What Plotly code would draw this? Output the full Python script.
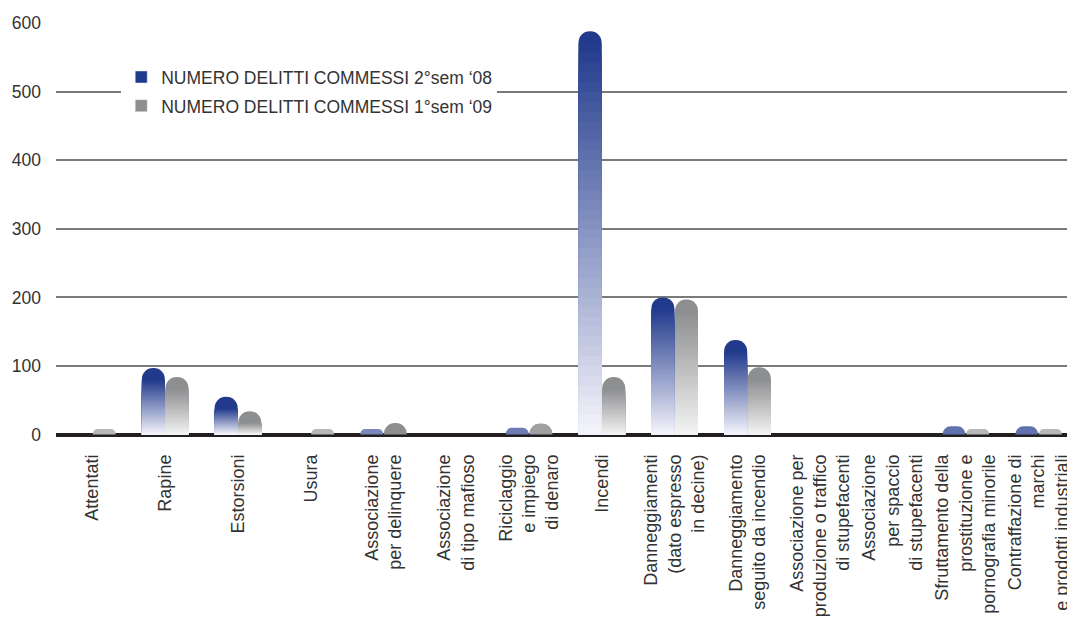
import plotly.graph_objects as go

# categories (x axis)
categories = [
    'Attentati',
    'Rapine',
    'Estorsioni',
    'Usura',
    'Associazione<br>per delinquere',
    'Associazione<br>di tipo mafioso',
    'Riciclaggio<br>e impiego<br>di denaro',
    'Incendi',
    'Danneggiamenti<br>(dato espresso<br>in decine)',
    'Danneggiamento<br>seguito da incendio',
    'Associazione per<br>produzione o traffico<br>di stupefacenti',
    'Associazione<br>per spaccio<br>di stupefacenti',
    'Sfruttamento della<br>prostituzione e<br>pornografia minorile',
    'Contraffazione di<br>marchi<br>e prodotti industriali',
]

# series values
delitti_2sem_08 = [0, 97, 55, 0, 8, 0, 10, 588, 200, 138, 0, 0, 12, 12]
delitti_1sem_09 = [8, 84, 34, 8, 17, 0, 16, 84, 197, 98, 0, 0, 8, 8]

series_names = ['NUMERO DELITTI COMMESSI 2°sem ‘08',
                'NUMERO DELITTI COMMESSI 1°sem ‘09']

y_ticks = [0, 100, 200, 300, 400, 500, 600]

FONT = 'Liberation Sans, Arial, Helvetica, sans-serif'
CAP = 17          # height of the rounded cap, in axis units
N_SEG = 40        # steps used to fake the vertical gradient

# (bottom colour, top colour) for each series
gradients = [((246, 245, 252), (33, 58, 140)),
             ((244, 244, 244), (141, 142, 144))]


def mix(c0, c1, t):
    t = max(0.0, min(1.0, t))
    return 'rgb({},{},{})'.format(*[round(a + (b - a) * t) for a, b in zip(c0, c1)])


fig = go.Figure()

for k, (vals, name) in enumerate(zip([delitti_2sem_08, delitti_1sem_09], series_names)):
    low, high = gradients[k]
    # whole bar with the rounded top, drawn first (underneath)
    top_colors = [mix(low, high, 1.0 if v >= CAP else 0.35 + 0.5 * v / CAP) for v in vals]
    fig.add_trace(go.Bar(
        x=categories,
        y=vals,
        offsetgroup=str(k),
        marker=dict(color=top_colors, line_width=0, cornerradius='50%'),
        name=name,
        legendgroup=str(k),
        showlegend=False,
        hovertemplate='%{x}: %{y}<extra></extra>'))
    # body below the cap: shorter and lighter bars laid over each other
    body = [max(v - CAP, 0) for v in vals]
    for j in range(N_SEG, 0, -1):
        fig.add_trace(go.Bar(
            x=categories,
            y=[h * j / N_SEG for h in body],
            offsetgroup=str(k),
            marker=dict(color=mix(low, high, (j - 0.5) / N_SEG), line_width=0),
            name=name,
            legendgroup=str(k),
            showlegend=False,
            hoverinfo='skip'))
    # legend entry
    fig.add_trace(go.Bar(
        x=[None], y=[None],
        marker=dict(color=mix(low, high, 1.0)),
        name=name,
        legendgroup=str(k),
        showlegend=True))

# the page body has an 8px margin, so the figure is a bit smaller than the window
fig.update_layout(
    width=1067,
    height=612,
    barmode='group',
    bargap=0.35,
    bargroupgap=0.03,
    plot_bgcolor='white',
    paper_bgcolor='white',
    font=dict(family=FONT, size=17, color='#333333'),
    margin=dict(l=48, r=0, t=15, b=182),
    legend=dict(
        x=0.064, y=0.913, xanchor='left', yanchor='top',
        bgcolor='white',
        font=dict(size=17.5, color='#333333'),
        tracegroupgap=3,
        itemclick=False),
    xaxis=dict(
        tickangle=-90,
        showgrid=False,
        showline=False,
        ticks='',
        automargin=False,
        ticklabelstandoff=12,
        tickfont=dict(size=18, color='#333333')),
    yaxis=dict(
        range=[-5, 600],
        tickvals=y_ticks,
        showgrid=True,
        gridcolor='#7a7a7a',
        gridwidth=1.5,
        zeroline=True,
        zerolinecolor='#231f20',
        zerolinewidth=4,
        showline=False,
        ticks='',
        automargin=False,
        ticklabelstandoff=14,
        tickfont=dict(size=17.5, color='#333333')),
)

fig.write_html('out.html')
